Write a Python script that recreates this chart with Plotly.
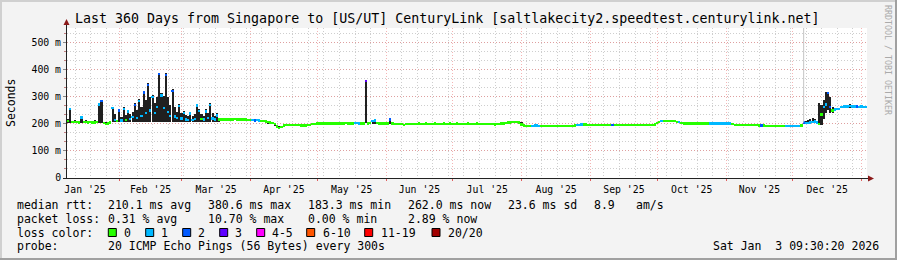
import datetime as dt
import plotly.graph_objects as go

# ---------------- data ----------------
END_TIME = dt.datetime(2026, 1, 3, 9, 30, 20)
N_DAYS = 360

# daily median rtt (ms), day 0 = first day of the 360-day window
median_ms = [
    210, 255, 207, 208, 207, 206, 224, 208, 207, 206,
    207, 206, 205, 208, 272, 286, 203, 200, 201, 206,
    258, 214, 210, 250, 213, 255, 215, 246, 218, 225,
    270, 222, 285, 230, 316, 240, 344, 250, 300, 240,
    262, 384, 306, 260, 382, 245, 230, 322, 228, 222,
    266, 220, 240, 217, 215, 238, 215, 218, 268, 248,
    218, 216, 246, 222, 270, 220, 216, 232, 216, 217,
    217, 217, 216, 217, 217, 218, 217, 216, 217, 217,
    216, 215, 214, 214, 213, 214, 213, 211, 210, 209,
    207, 206, 204, 200, 190, 184, 188, 195, 196, 197,
    197, 196, 197, 196, 196, 195, 194, 195, 196, 197,
    199, 200, 201, 201, 202, 201, 202, 201, 202, 202,
    201, 202, 202, 201, 202, 203, 202, 201, 202, 203,
    203, 202, 201, 202, 360, 202, 203, 211, 213, 204,
    202, 201, 202, 201, 202, 216, 201, 200, 200, 199,
    199, 196, 199, 200, 200, 199, 200, 200, 201, 200,
    200, 201, 200, 200, 200, 201, 200, 200, 200, 201,
    200, 200, 201, 200, 200, 201, 200, 200, 200, 200,
    201, 200, 200, 200, 201, 200, 200, 200, 199, 200,
    200, 199, 198, 199, 200, 201, 202, 203, 205, 206,
    208, 208, 207, 205, 198, 194, 193, 193, 193, 193,
    194, 194, 193, 193, 193, 193, 193, 193, 193, 193,
    193, 193, 193, 193, 193, 193, 193, 193, 194, 196,
    197, 198, 198, 198, 197, 197, 196, 196, 196, 196,
    196, 196, 196, 196, 196, 196, 196, 196, 196, 196,
    196, 196, 196, 196, 196, 196, 196, 196, 196, 196,
    196, 196, 196, 196, 198, 203, 208, 210, 211, 211,
    211, 211, 211, 211, 208, 207, 203, 202, 202, 202,
    202, 202, 202, 202, 202, 202, 202, 202, 202, 202,
    202, 202, 202, 202, 202, 202, 202, 202, 201, 199,
    196, 196, 196, 196, 196, 196, 196, 196, 196, 196,
    196, 195, 195, 194, 193, 193, 193, 193, 193, 193,
    193, 193, 193, 193, 193, 193, 193, 193, 193, 193,
    194, 205, 203, 204, 206, 208, 209, 205, 200, 235,
    262, 272, 315, 262, 250, 254, 255, 256, 262, 264,
    264, 264, 266, 265, 264, 264, 263, 264, 263, 262,
]

# daily loss colour class (index into loss_labels)
loss_code = [
    0, 1, 0, 0, 0, 0, 1, 0, 0, 0,
    0, 0, 0, 0, 1, 2, 0, 0, 0, 0,
    1, 1, 0, 2, 1, 1, 0, 1, 1, 1,
    2, 1, 1, 1, 2, 1, 2, 1, 1, 1,
    1, 2, 1, 1, 2, 1, 1, 2, 1, 1,
    1, 1, 1, 1, 1, 1, 1, 1, 1, 1,
    0, 1, 1, 1, 1, 1, 1, 1, 0, 0,
    0, 0, 0, 0, 0, 0, 0, 0, 0, 0,
    0, 0, 0, 1, 2, 1, 1, 0, 0, 0,
    0, 0, 0, 0, 0, 0, 0, 0, 0, 0,
    0, 0, 0, 0, 0, 0, 0, 0, 0, 0,
    0, 0, 0, 0, 0, 0, 0, 0, 0, 0,
    0, 0, 0, 0, 0, 0, 0, 0, 0, 1,
    1, 1, 0, 0, 3, 0, 0, 1, 1, 0,
    0, 0, 0, 0, 0, 2, 0, 0, 0, 0,
    0, 0, 0, 0, 0, 0, 0, 0, 0, 0,
    0, 0, 0, 0, 0, 0, 0, 0, 0, 0,
    0, 0, 0, 0, 0, 0, 0, 0, 0, 0,
    0, 0, 0, 0, 0, 0, 0, 0, 0, 0,
    0, 0, 0, 0, 0, 0, 0, 0, 0, 0,
    0, 0, 0, 0, 0, 0, 0, 0, 0, 1,
    1, 1, 1, 0, 0, 0, 0, 0, 0, 0,
    0, 0, 0, 0, 0, 0, 0, 0, 0, 1,
    1, 1, 0, 0, 0, 0, 0, 0, 0, 0,
    0, 0, 0, 0, 0, 2, 0, 0, 0, 0,
    0, 0, 0, 0, 0, 0, 0, 0, 0, 0,
    0, 0, 0, 0, 0, 0, 0, 1, 0, 0,
    0, 0, 0, 0, 0, 1, 0, 0, 0, 0,
    0, 0, 0, 0, 0, 0, 0, 0, 0, 1,
    1, 1, 1, 1, 1, 1, 1, 1, 1, 0,
    0, 0, 0, 0, 0, 0, 0, 0, 0, 0,
    0, 0, 2, 0, 0, 0, 0, 0, 0, 0,
    0, 0, 0, 1, 1, 1, 1, 1, 1, 1,
    0, 2, 1, 1, 1, 1, 1, 1, 0, 0,
    1, 1, 2, 2, 0, 1, 1, 1, 1, 1,
    1, 1, 1, 1, 1, 2, 1, 1, 1, 1,
]

# smoke (spread of the pings) on days where it is visible
smoke_days = [0, 1, 3, 6, 8, 12, 14, 15, 17,
              20, 21, 22, 23, 24, 25, 26, 27, 28, 29,
              30, 31, 32, 33, 34, 35, 36, 37, 38, 39,
              40, 41, 42, 43, 44, 45, 46, 47, 48, 49,
              50, 51, 52, 53, 54, 55, 56, 57, 58, 59,
              60, 61, 62, 63, 64, 65, 66, 67, 68,
              72, 76, 84, 86, 90, 93, 95, 113, 122,
              134, 137, 138, 145, 151, 190, 204, 266, 322,
              332, 333, 334, 335, 336, 337, 338, 339,
              340, 341, 342, 343, 344, 348, 352, 353]
smoke_lo_ms = [205, 205, 204, 204, 204, 203, 205, 205, 198,
               206, 206, 206, 206, 206, 206, 206, 206, 206, 206,
               206, 206, 206, 206, 206, 206, 206, 206, 206, 206,
               206, 206, 206, 206, 206, 206, 206, 206, 206, 206,
               206, 206, 206, 206, 206, 206, 206, 206, 206, 206,
               206, 206, 206, 206, 206, 206, 206, 206, 206,
               214, 213, 210, 209, 200, 192, 182, 198, 198,
               202, 200, 201, 199, 193, 195, 192, 203, 190,
               200, 201, 202, 203, 203, 200, 195, 196,
               220, 240, 250, 240, 240, 258, 260, 260]
smoke_hi_ms = [218, 258, 214, 226, 215, 216, 274, 289, 208,
               263, 235, 215, 256, 225, 261, 232, 252, 238, 245,
               277, 250, 291, 262, 322, 290, 350, 300, 307, 277,
               300, 390, 314, 305, 388, 300, 270, 330, 262, 245,
               274, 240, 248, 232, 228, 245, 230, 235, 275, 256,
               236, 230, 255, 240, 279, 240, 228, 240, 222,
               221, 220, 218, 216, 210, 204, 192, 205, 206,
               363, 216, 216, 220, 201, 202, 207, 212, 196,
               212, 215, 219, 222, 218, 212, 279, 270,
               290, 320, 318, 300, 262, 268, 272, 270]

# a single faint outlier column
outlier_days = [331]
outlier_hi_ms = [555]

y_tick_vals = [0.0, 0.1, 0.2, 0.3, 0.4, 0.5]
y_tick_text = ["0", "100 m", "200 m", "300 m", "400 m", "500 m"]

loss_labels = ["0", "1", "2", "3", "4-5", "6-10", "11-19", "20/20"]
loss_colors = ["#26ff00", "#00b8ff", "#0059ff", "#5e00ff",
               "#ff00ff", "#ff5500", "#ff0000", "#a10000"]

title_text = "Last 360 Days from Singapore to [US/UT] CenturyLink [saltlakecity2.speedtest.centurylink.net]"
median_stats = ["210.1 ms avg", "380.6 ms max", "183.3 ms min", "262.0 ms now", "23.6 ms sd", "8.9", "am/s"]
loss_stats = ["0.31 % avg", "10.70 % max", "0.00 % min", "2.89 % now"]
probe_text = "20 ICMP Echo Pings (56 Bytes) every 300s"
stamp_text = "Sat Jan \u00a03 09:30:20 2026"

# ---------------- figure ----------------
MONO = "DejaVu Sans Mono"
W, H = 897, 260
L, R, T, B = 67, 30, 28, 82
PW, PH = W - L - R, H - T - B
DAY_MS = 86400000
START_TIME = END_TIME - dt.timedelta(days=N_DAYS)

def day_center(d):
    return START_TIME + dt.timedelta(days=d + 0.5)

def pxx(x):
    return (x - L) / PW

def pxy(y):
    return (T + PH - y) / PH

assert len(median_ms) == N_DAYS and len(loss_code) == N_DAYS

fig = go.Figure()

# smoke
fig.add_trace(go.Bar(
    x=[day_center(d) for d in smoke_days],
    base=[lo / 1000 for lo in smoke_lo_ms],
    y=[(hi - lo) / 1000 for lo, hi in zip(smoke_lo_ms, smoke_hi_ms)],
    width=DAY_MS * 0.95,
    marker=dict(color="#202020", line=dict(width=0)),
    hoverinfo="skip", showlegend=False,
))

# faint outlier
for d, hi in zip(outlier_days, outlier_hi_ms):
    fig.add_trace(go.Scatter(
        x=[day_center(d), day_center(d)],
        y=[median_ms[d] / 1000, hi / 1000],
        mode="lines", line=dict(color="#c4c4c4", width=1),
        hoverinfo="skip", showlegend=False,
    ))

# median band coloured by loss
band = 2.4 / PH * 0.555
fig.add_trace(go.Bar(
    x=[day_center(d) for d in range(N_DAYS)],
    base=[m / 1000 - band / 2 for m in median_ms],
    y=[band] * N_DAYS,
    width=DAY_MS,
    marker=dict(color=[loss_colors[c] for c in loss_code], line=dict(width=0)),
    hoverinfo="skip", showlegend=False,
))

major_grid = "rgba(235,120,120,0.55)"
minor_grid = "rgba(190,190,190,0.75)"

fig.update_xaxes(
    type="date",
    range=[START_TIME, END_TIME],
    dtick="M1", tick0="2025-01-01",
    ticklabelmode="period",
    tickformat="%b '%y",
    showgrid=True, gridcolor=major_grid, griddash="1px,2px", gridwidth=1,
    minor=dict(dtick=7 * DAY_MS, tick0="2025-01-05", showgrid=True,
               gridcolor=minor_grid, griddash="1px,2px"),
    ticks="outside", ticklen=2, tickcolor="#e06060",
    tickfont=dict(family=MONO, size=9.8, color="#000"),
    showline=False, zeroline=False, fixedrange=True,
)
fig.update_yaxes(
    range=[0, 0.555],
    tickvals=y_tick_vals, ticktext=y_tick_text,
    showgrid=True, gridcolor=major_grid, griddash="1px,2px", gridwidth=1,
    minor=dict(dtick=0.1 / 3, tick0=0, showgrid=True,
               gridcolor=minor_grid, griddash="1px,2px",
               ticks="outside", ticklen=2, tickcolor="#c08080"),
    ticks="outside", ticklen=3, tickcolor="#888",
    tickfont=dict(family=MONO, size=9.8, color="#000"),
    showline=False, zeroline=False, fixedrange=True,
)

shapes = []
# axis lines
shapes.append(dict(type="line", xref="paper", yref="paper",
                   x0=pxx(66.5), x1=pxx(66.5), y0=pxy(178), y1=pxy(24),
                   line=dict(color="#222", width=1)))
shapes.append(dict(type="line", xref="paper", yref="paper",
                   x0=pxx(63), x1=pxx(869), y0=pxy(178.5), y1=pxy(178.5),
                   line=dict(color="#222", width=1)))
# arrow heads
shapes.append(dict(type="path", xref="paper", yref="paper",
                   path=f"M {pxx(66.5)},{pxy(19)} L {pxx(63.5)},{pxy(25)} L {pxx(69.5)},{pxy(25)} Z",
                   fillcolor="#8b1a1a", line=dict(width=0)))
shapes.append(dict(type="path", xref="paper", yref="paper",
                   path=f"M {pxx(874)},{pxy(178.5)} L {pxx(868)},{pxy(175.5)} L {pxx(868)},{pxy(181.5)} Z",
                   fillcolor="#8b1a1a", line=dict(width=0)))
# 3D frame
shapes.append(dict(type="rect", xref="paper", yref="paper", x0=pxx(0), x1=pxx(W), y0=pxy(0), y1=pxy(2),
                   fillcolor="#d0d0d0", line=dict(width=0)))
shapes.append(dict(type="rect", xref="paper", yref="paper", x0=pxx(0), x1=pxx(2), y0=pxy(0), y1=pxy(H),
                   fillcolor="#d0d0d0", line=dict(width=0)))
shapes.append(dict(type="rect", xref="paper", yref="paper", x0=pxx(0), x1=pxx(W), y0=pxy(H - 2), y1=pxy(H),
                   fillcolor="#a0a0a0", line=dict(width=0)))
shapes.append(dict(type="rect", xref="paper", yref="paper", x0=pxx(W - 2), x1=pxx(W), y0=pxy(0), y1=pxy(H),
                   fillcolor="#a0a0a0", line=dict(width=0)))

annotations = []

def ann(text, x, y, size=11.5, anchor="left", color="#000", angle=0):
    annotations.append(dict(text=text, x=pxx(x), y=pxy(y), xref="paper", yref="paper",
                            xanchor=anchor, yanchor="middle", showarrow=False,
                            font=dict(family=MONO, size=size, color=color),
                            textangle=angle, borderpad=0))

ann(title_text, 447, 18, size=13.3, anchor="center")
ann("Seconds", 11, 103, size=11.5, anchor="center", angle=-90)
ann("RRDTOOL / TOBI OETIKER", 888, 60, size=8.3, anchor="center", color="#aaaaaa", angle=90)

ROW1, ROW2, ROW3, ROW4 = 204.5, 218.5, 232.5, 246.5
ann("median rtt:", 16, ROW1)
for txt, x in zip(median_stats, [107, 207, 307, 407, 507, 593, 635]):
    ann(txt, x, ROW1)
ann("packet loss:", 16, ROW2)
for txt, x in zip(loss_stats, [107, 207, 307, 407]):
    ann(txt, x, ROW2)
ann("loss color:", 16, ROW3)
sq_x = [108.3, 145.7, 182.7, 219.7, 256.7, 306.7, 364.7, 432]
lb_x = [123.3, 160, 197, 234, 271, 322, 380, 447]
for lab, col, sx, lx in zip(loss_labels, loss_colors, sq_x, lb_x):
    shapes.append(dict(type="rect", xref="paper", yref="paper",
                       x0=pxx(sx), x1=pxx(sx + 8), y0=pxy(ROW3 - 4), y1=pxy(ROW3 + 4),
                       fillcolor=col, line=dict(color="#000", width=1)))
    ann(lab, lx, ROW3)
ann("probe:", 16, ROW4)
ann(probe_text, 107, ROW4)
ann(stamp_text, 880, ROW4, anchor="right")

fig.update_layout(
    width=W, height=H,
    margin=dict(l=L, r=R, t=T, b=B, pad=0),
    paper_bgcolor="#f3f3f3", plot_bgcolor="#ffffff",
    barmode="overlay", bargap=0,
    showlegend=False,
    font=dict(family=MONO, size=11.5, color="#000"),
    shapes=shapes, annotations=annotations,
)

fig.write_html("out.html", config={"displayModeBar": False, "staticPlot": True})
